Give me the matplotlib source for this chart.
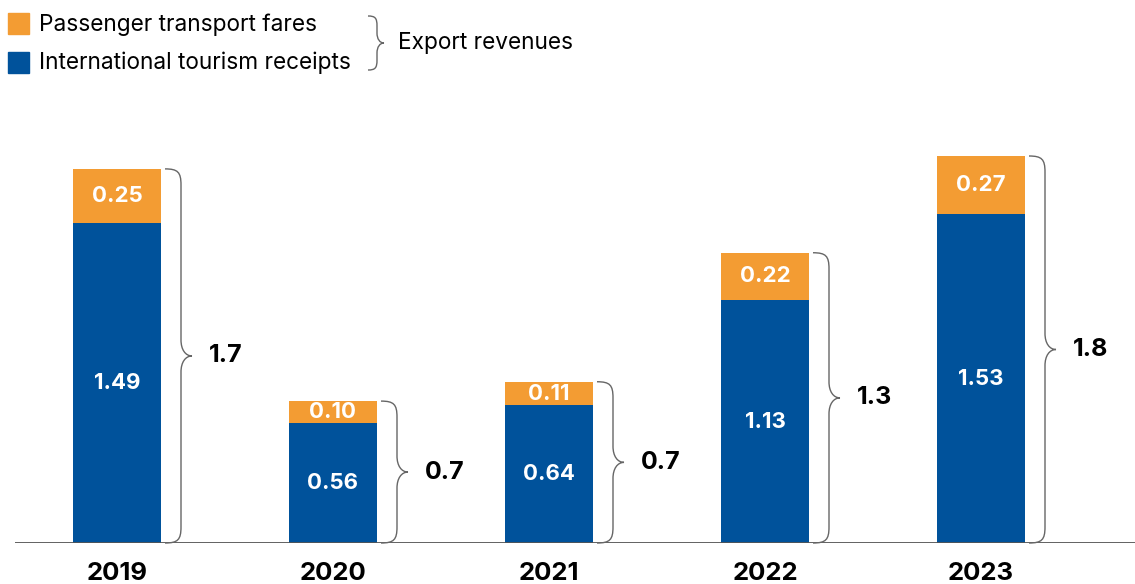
import matplotlib
matplotlib.use("Agg")
import matplotlib.pyplot as plt
from matplotlib.path import Path
from matplotlib.patches import PathPatch, Rectangle

years = ["2019", "2020", "2021", "2022", "2023"]
tourism = [1.49, 0.56, 0.64, 1.13, 1.53]
transport = [0.25, 0.10, 0.11, 0.22, 0.27]
totals = ["1.7", "0.7", "0.7", "1.3", "1.8"]
transport_labels = ["0.25", "0.10", "0.11", "0.22", "0.27"]
tourism_labels = ["1.49", "0.56", "0.64", "1.13", "1.53"]

BLUE = "#00529B"
ORANGE = "#F39C33"
GREY = "#666666"
FONT = ["Inter", "DejaVu Sans"]
plt.rcParams["font.family"] = FONT

W, H = 1135, 584
fig = plt.figure(figsize=(W / 100, H / 100), dpi=100)
ax = fig.add_axes([15 / W, 41 / H, 1120 / W, 543 / H])

PX_X = 1 / 216.0   # data units per pixel, x
PX_Y = 1 / 215.0   # data units per pixel, y
ax.set_xlim(-102 * PX_X, 1018 * PX_X)
ax.set_ylim(0, 543 * PX_Y)
ax.axis("off")

bar_w = 88 * PX_X
x = list(range(len(years)))
ax.bar(x, tourism, width=bar_w, color=BLUE, zorder=2)
ax.bar(x, transport, width=bar_w, bottom=tourism, color=ORANGE, zorder=2)
ax.axhline(0, color="#555555", lw=1.3, zorder=3)


def brace(x0, xv, xt, ytop, ybot, r, transform, lw=1.0):
    ymid = (ytop + ybot) / 2
    verts = [
        (x0, ytop),
        (x0 + 0.8 * (xv - x0), ytop), (xv, ytop - 0.2 * r), (xv, ytop - r),
        (xv, ymid + r),
        (xv, ymid + 0.4 * r), (xv + 0.4 * (xt - xv), ymid), (xt, ymid),
        (xv + 0.4 * (xt - xv), ymid), (xv, ymid - 0.4 * r), (xv, ymid - r),
        (xv, ybot + r),
        (xv, ybot + 0.2 * r), (x0 + 0.8 * (xv - x0), ybot), (x0, ybot),
    ]
    codes = [Path.MOVETO,
             Path.CURVE4, Path.CURVE4, Path.CURVE4,
             Path.LINETO,
             Path.CURVE4, Path.CURVE4, Path.CURVE4,
             Path.CURVE4, Path.CURVE4, Path.CURVE4,
             Path.LINETO,
             Path.CURVE4, Path.CURVE4, Path.CURVE4]
    return PathPatch(Path(verts, codes), fill=False, edgecolor=GREY,
                     lw=lw, transform=transform, clip_on=False, zorder=4)


for i in x:
    tot = tourism[i] + transport[i]
    ax.text(i, tourism[i] / 2, tourism_labels[i], color="white", ha="center",
            va="center", fontsize=16, fontweight="bold", zorder=5)
    ax.text(i, tourism[i] + transport[i] / 2, transport_labels[i], color="white",
            ha="center", va="center", fontsize=16, fontweight="bold", zorder=5)
    right = i + bar_w / 2
    x0 = right + 4 * PX_X
    xv = x0 + 16 * PX_X
    xt = x0 + 27 * PX_X
    ax.add_patch(brace(x0, xv, xt, tot, 0, 16 * PX_Y, ax.transData))
    ax.text(xt + 17 * PX_X, tot / 2, totals[i], ha="left", va="center",
            fontsize=18, fontweight="bold", color="black", zorder=5)
    ax.text(i, -31 * PX_Y, years[i], ha="center", va="center", fontsize=18.5,
            fontweight="bold", color="black", clip_on=False)


def fx(px):
    return px / W


def fy(py):
    return 1 - py / H


fig.add_artist(Rectangle((fx(8), fy(34)), 21 / W, 21 / H, color=ORANGE,
                         transform=fig.transFigure))
fig.add_artist(Rectangle((fx(8), fy(73)), 21 / W, 21 / H, color=BLUE,
                         transform=fig.transFigure))
fig.text(fx(39), fy(25), "Passenger transport fares", ha="left", va="center",
         fontsize=16.3, color="black")
fig.text(fx(39), fy(63), "International tourism receipts", ha="left",
         va="center", fontsize=16.3, color="black")
fig.add_artist(brace(fx(368), fx(377), fx(384), fy(16), fy(70), 10 / H,
                     fig.transFigure))
fig.text(fx(398), fy(43), "Export revenues", ha="left", va="center",
         fontsize=16.3, color="black")

fig.savefig("out.png", dpi=100)
